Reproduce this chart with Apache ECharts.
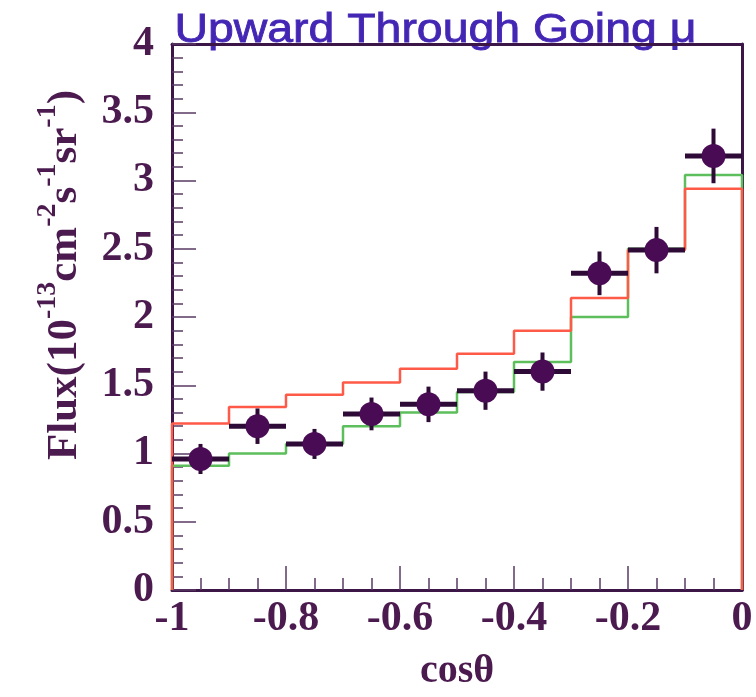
<!DOCTYPE html>
<html>
<head>
<meta charset="utf-8">
<script src="https://cdn.jsdelivr.net/npm/echarts@6/dist/echarts.min.js"></script>
<style>
  html, body { margin: 0; padding: 0; background: #fff; }
  #chart { width: 756px; height: 697px; }
</style>
</head>
<body>
<div id="chart"></div>
<script>
// bin centres in cos(theta), 10 bins of 0.1
var binCenters = [-0.95, -0.85, -0.75, -0.65, -0.55, -0.45, -0.35, -0.25, -0.15, -0.05];
var binEdges = [-1, -0.9, -0.8, -0.7, -0.6, -0.5, -0.4, -0.3, -0.2, -0.1, 0];

// measured flux and its error
var dataFlux = [0.96, 1.20, 1.07, 1.29, 1.36, 1.46, 1.60, 2.32, 2.49, 3.18];
var dataErr = [0.11, 0.13, 0.11, 0.12, 0.13, 0.14, 0.14, 0.16, 0.17, 0.20];

// expectations (histograms)
var redHist = [1.22, 1.34, 1.43, 1.52, 1.62, 1.73, 1.90, 2.14, 2.49, 2.94];
var greenHist = [0.91, 1.00, 1.07, 1.20, 1.30, 1.45, 1.67, 2.00, 2.50, 3.04];

var xTicks = ['-1', '-0.8', '-0.6', '-0.4', '-0.2', '0'];

var frameColor = '#3d1648';
var labelColor = '#4b1a4f';
var serif = 'Liberation Serif, DejaVu Serif, serif';

function histPoints(vals) {
  var pts = [[binEdges[0], 0]];
  for (var i = 0; i < vals.length; i++) {
    pts.push([binEdges[i], vals[i]]);
  }
  pts.push([binEdges[binEdges.length - 1], vals[vals.length - 1]]);
  pts.push([binEdges[binEdges.length - 1], 0]);
  return pts;
}

var pointData = binCenters.map(function (c, i) {
  return [c, dataFlux[i], dataErr[i]];
});

var chart = echarts.init(document.getElementById('chart'));

var option = {
  backgroundColor: '#fff',
  animation: false,
  grid: { left: 172, right: 14, top: 44, bottom: 94 },
  xAxis: [{
    type: 'value',
    min: -1,
    max: 0,
    interval: 0.2,
    name: 'cosθ',
    nameLocation: 'middle',
    nameGap: 62,
    nameTextStyle: { fontFamily: serif, fontWeight: 'bold', fontSize: 40, color: labelColor },
    axisLine: { show: true, onZero: false, lineStyle: { color: frameColor, width: 3 } },
    axisTick: { show: true, inside: true, length: 24, lineStyle: { color: '#5a3a66', width: 1.5 } },
    minorTick: { show: true, splitNumber: 4, length: 12, lineStyle: { color: '#5a3a66', width: 1.5 } },
    splitLine: { show: false },
    axisLabel: {
      margin: 8,
      fontFamily: serif,
      fontWeight: 'bold',
      fontSize: 42,
      color: labelColor,
      formatter: function (v) {
        var idx = Math.round((v + 1) / 0.2);
        return xTicks[idx];
      }
    }
  }, {
    type: 'value',
    position: 'top',
    min: -1,
    max: 0,
    axisLine: { show: true, onZero: false, lineStyle: { color: frameColor, width: 3 } },
    axisTick: { show: false },
    axisLabel: { show: false },
    splitLine: { show: false }
  }],
  yAxis: [{
    type: 'value',
    min: 0,
    max: 4,
    interval: 0.5,
    axisLine: { show: true, onZero: false, lineStyle: { color: frameColor, width: 3 } },
    axisTick: { show: true, inside: true, length: 24, lineStyle: { color: '#5a3a66', width: 1.5 } },
    minorTick: { show: true, splitNumber: 5, length: 11, lineStyle: { color: '#5a3a66', width: 1.5 } },
    splitLine: { show: false },
    axisLabel: {
      margin: 18,
      fontFamily: serif,
      fontWeight: 'bold',
      fontSize: 42,
      color: labelColor
    }
  }, {
    type: 'value',
    position: 'right',
    min: 0,
    max: 4,
    axisLine: { show: true, onZero: false, lineStyle: { color: frameColor, width: 3 } },
    axisTick: { show: false },
    axisLabel: { show: false },
    splitLine: { show: false }
  }],
  graphic: [{
    type: 'text',
    left: 174,
    top: 11,
    scaleX: 1.16,
    style: {
      text: 'Upward Through Going μ',
      fontFamily: 'Liberation Sans, Arial, sans-serif',
      fontSize: 40,
      fill: '#4426b4',
      stroke: '#4426b4',
      lineWidth: 0.8
    }
  }, {
    type: 'line',
    shape: { x1: 174, y1: 44, x2: 716, y2: 44 },
    style: { stroke: '#4426b4', lineWidth: 2 }
  }, {
    type: 'text',
    x: 60,
    y: 275,
    rotation: Math.PI / 2,
    style: {
      text: '{m|Flux(10}{s|-13}{m|cm}{s|-2}{m|s}{s|-1}{m|sr}{s|-1}{m|)}',
      align: 'center',
      verticalAlign: 'middle',
      fill: labelColor,
      rich: {
        m: { fontFamily: serif, fontWeight: 'bold', fontSize: 43, lineHeight: 52, verticalAlign: 'bottom', fill: labelColor },
        s: { fontFamily: serif, fontWeight: 'bold', fontSize: 28, lineHeight: 52, verticalAlign: 'top', fill: labelColor }
      }
    }
  }],
  series: [{
    name: 'green',
    type: 'line',
    step: 'end',
    symbol: 'none',
    data: histPoints(greenHist),
    lineStyle: { color: '#5cbf5c', width: 2.5 },
    z: 3
  }, {
    name: 'red',
    type: 'line',
    step: 'end',
    symbol: 'none',
    data: histPoints(redHist),
    lineStyle: { color: '#ff5a48', width: 2.5 },
    z: 4
  }, {
    name: 'data',
    type: 'custom',
    data: pointData,
    z: 5,
    renderItem: function (params, api) {
      var x = api.value(0);
      var y = api.value(1);
      var e = api.value(2);
      var pl = api.coord([x - 0.05, y]);
      var pr = api.coord([x + 0.05, y]);
      var pt = api.coord([x, y + e]);
      var pb = api.coord([x, y - e]);
      var c = api.coord([x, y]);
      return {
        type: 'group',
        children: [{
          type: 'line',
          shape: { x1: pl[0], y1: pl[1], x2: pr[0], y2: pr[1] },
          style: { stroke: '#2e0b36', lineWidth: 5 }
        }, {
          type: 'line',
          shape: { x1: pt[0], y1: pt[1], x2: pb[0], y2: pb[1] },
          style: { stroke: '#2e0b36', lineWidth: 4 }
        }, {
          type: 'circle',
          shape: { cx: c[0], cy: c[1], r: 12 },
          style: { fill: '#4a0b55' }
        }]
      };
    }
  }]
};

chart.setOption(option);
</script>
</body>
</html>
